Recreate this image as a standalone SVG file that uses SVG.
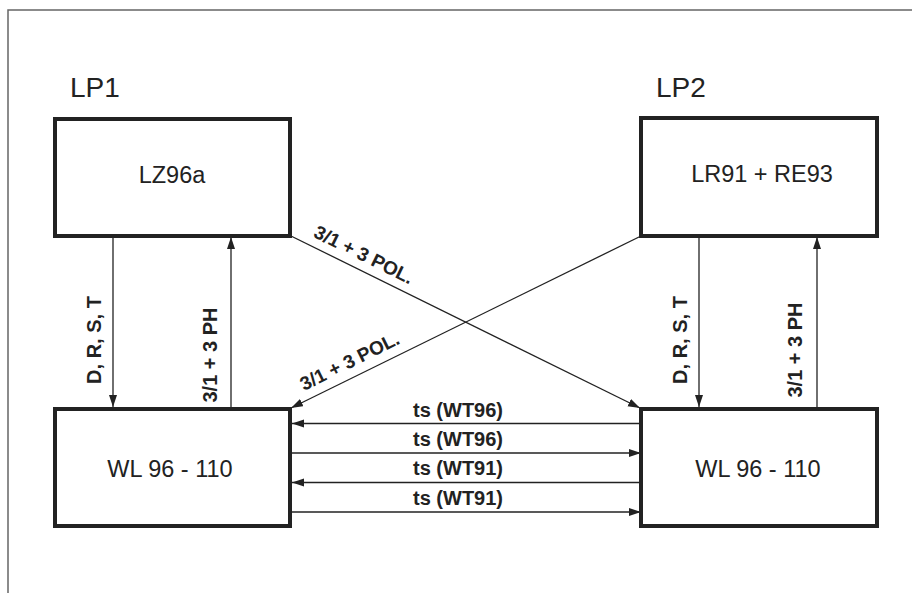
<svg xmlns="http://www.w3.org/2000/svg" width="912" height="593" viewBox="0 0 912 593">
<style>
.box{fill:#fff;stroke:#222;stroke-width:4}
.node{font-family:"Liberation Sans",Arial,sans-serif;font-size:23.5px;fill:#222;text-anchor:middle}
.lp{font-family:"Liberation Sans",Arial,sans-serif;font-size:28px;fill:#222}
.lbl{font-family:"Liberation Sans",Arial,sans-serif;font-size:20px;font-weight:bold;fill:#222;text-anchor:middle}
.dl{font-family:"Liberation Sans",Arial,sans-serif;font-size:19px;font-weight:bold;fill:#222;text-anchor:middle}
.ln{stroke:#222;stroke-width:1.3;fill:none;marker-end:url(#ah)}
.frame{stroke:#666;stroke-width:1.5;fill:none}
</style>
<defs>
<marker id="ah" markerUnits="userSpaceOnUse" markerWidth="13" markerHeight="9" refX="12" refY="4" orient="auto">
<path d="M0,0 L12,4 L0,8 z" fill="#222"/>
</marker>
</defs>
<rect width="912" height="593" fill="#fff"/>
<path class="frame" d="M912,10 H8 V593"/>
<text class="lp" x="70" y="97">LP1</text>
<text class="lp" x="656" y="97">LP2</text>
<g id="connectors">
<line class="ln" x1="113" y1="237" x2="113" y2="407"/>
<line class="ln" x1="231" y1="407" x2="231" y2="237"/>
<line class="ln" x1="699" y1="237" x2="699" y2="407"/>
<line class="ln" x1="817" y1="407" x2="817" y2="237"/>
<line class="ln" x1="291" y1="236" x2="640" y2="408"/>
<line class="ln" x1="641" y1="236" x2="291" y2="408"/>
<line class="ln" x1="641" y1="423.5" x2="292" y2="423.5"/>
<line class="ln" x1="292" y1="453" x2="641" y2="453"/>
<line class="ln" x1="641" y1="482.5" x2="292" y2="482.5"/>
<line class="ln" x1="292" y1="512" x2="641" y2="512"/>
<text class="lbl" transform="translate(101,340) rotate(-90)">D, R, S, T</text>
<text class="lbl" transform="translate(217,355) rotate(-90)">3/1 + 3 PH</text>
<text class="lbl" transform="translate(687,340) rotate(-90)">D, R, S, T</text>
<text class="lbl" transform="translate(802,350) rotate(-90)">3/1 + 3 PH</text>
<text class="dl" transform="translate(357,268.6) rotate(26.3)" y="-9">3/1 + 3 POL.</text>
<text class="dl" transform="translate(357,376) rotate(-26.3)" y="-10">3/1 + 3 POL.</text>
<text class="lbl" x="458" y="416.5">ts (WT96)</text>
<text class="lbl" x="458" y="446">ts (WT96)</text>
<text class="lbl" x="458" y="475">ts (WT91)</text>
<text class="lbl" x="458" y="504.5">ts (WT91)</text>
</g>
<g id="lz96a">
<rect class="box" x="55" y="119" width="235" height="117"/>
<text class="node" x="172" y="183">LZ96a</text>
</g>
<g id="lr91re93">
<rect class="box" x="641" y="118" width="236" height="118"/>
<text class="node" x="762" y="182">LR91 + RE93</text>
</g>
<g id="wl-left">
<rect class="box" x="55" y="409" width="235" height="117"/>
<text class="node" x="170" y="476.5">WL 96 - 110</text>
</g>
<g id="wl-right">
<rect class="box" x="641" y="409" width="236" height="117"/>
<text class="node" x="758" y="476.5">WL 96 - 110</text>
</g>
</svg>
